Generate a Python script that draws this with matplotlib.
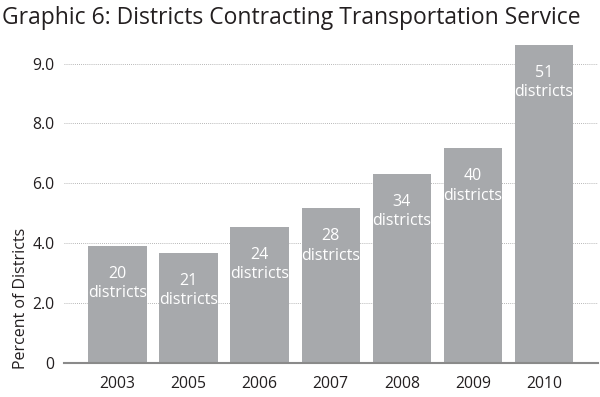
import numpy as np
import matplotlib
matplotlib.use("Agg")
import matplotlib.pyplot as plt

plt.rcParams['font.family'] = ['Open Sans', 'DejaVu Sans']

years = ["2003", "2005", "2006", "2007", "2008", "2009", "2010"]
percent = [3.92, 3.69, 4.55, 5.17, 6.33, 7.17, 10.63]
districts = [20, 21, 24, 28, 34, 40, 51]
tick_pos = [0, 2, 4, 6, 8, 10]
tick_labels = ["0", "2.0", "4.0", "6.0", "8.0", "9.0"]

bar_color = "#a7a9ac"

fig = plt.figure(figsize=(6, 3.97), dpi=100)
ax = fig.add_axes([0.1067, 0.0849, 0.89, 0.814])

x = np.arange(len(years))
ax.bar(x, percent, width=0.82, color=bar_color, zorder=2)

for xi, val, n in zip(x, percent, districts):
    ax.annotate(f"{n}\ndistricts", (xi, val), xytext=(0, -20),
                textcoords="offset pixels", ha="center", va="top",
                color="white", fontsize=11.5, linespacing=1.3)

ax.set_xlim(-0.75, 6.76)
ax.set_ylim(0, 10.78)
ax.set_yticks(tick_pos)
ax.set_yticklabels(tick_labels)
ax.set_xticks(x)
ax.set_xticklabels(years)
ax.tick_params(length=0, labelsize=11.3, colors="#231f20")
ax.tick_params(axis="x", pad=9)
ax.tick_params(axis="y", pad=7)

ax.grid(axis="y", linestyle=(0, (1, 1.5)), color="#a0a0a0", linewidth=0.6, zorder=0)
for s in ["top", "right", "left"]:
    ax.spines[s].set_visible(False)
ax.spines["bottom"].set_color("#8a8a8a")
ax.spines["bottom"].set_linewidth(1.5)
ax.spines["bottom"].set_zorder(3)

ax.set_ylabel("Percent of Districts", fontsize=11.5, color="#231f20")
ax.yaxis.set_label_coords(-0.066, 0.2)

fig.text(0.004, 0.985, "Graphic 6: Districts Contracting Transportation Service",
         fontsize=16.5, color="#231f20", ha="left", va="top")

fig.savefig("out.png", dpi=100)
